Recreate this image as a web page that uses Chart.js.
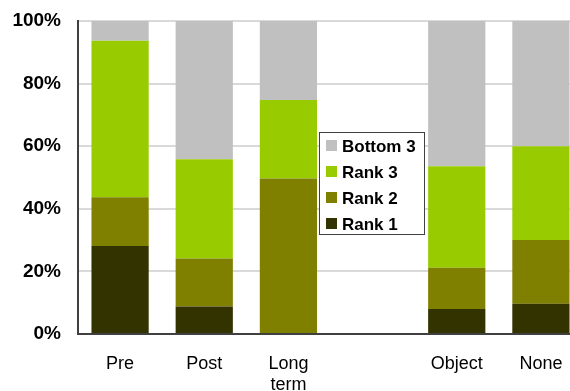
<!DOCTYPE html>
<html>
<head>
<meta charset="utf-8">
<script src="https://cdn.jsdelivr.net/npm/chart.js@4"></script>
<style>
  html, body { margin: 0; padding: 0; background: #fff; overflow: hidden; }
  #wrap { position: relative; width: 583px; height: 391px; }
</style>
</head>
<body>
<div id="wrap"><canvas id="c" width="583" height="391"></canvas></div>
<script>
// Share of responses in each rank group, per condition (percent of 100)
const categories = ['Pre', 'Post', ['Long', 'term'], '', 'Object', 'None'];
const rank1   = [28.1,  8.8,  0,    null, 8.0, 9.7];
const rank2   = [15.6, 15.3, 49.7,  null, 13.2, 20.3];
const rank3   = [50.0, 31.7, 25.1,  null, 32.4, 30.0];
const bottom3 = [ 6.3, 44.2, 25.2,  null, 46.4, 40.0];
const yTicks  = [0, 20, 40, 60, 80, 100];

const colours = {
  rank1: '#333300',
  rank2: '#808000',
  rank3: '#99CC00',
  bottom3: '#C0C0C0'
};

// Boxed legend drawn over the plot, listing the series top-down
const boxLegend = {
  id: 'boxLegend',
  afterDraw(chart) {
    const ctx = chart.ctx;
    const x = 319, y = 132, w = 105, h = 102;
    ctx.save();
    ctx.fillStyle = '#ffffff';
    ctx.fillRect(x, y, w, h);
    ctx.strokeStyle = '#404040';
    ctx.lineWidth = 1;
    ctx.strokeRect(x + 0.5, y + 0.5, w, h);
    const items = chart.data.datasets.slice().reverse();
    ctx.font = 'bold 17px "Liberation Sans", Arial, sans-serif';
    ctx.textBaseline = 'middle';
    items.forEach((ds, i) => {
      const cy = y + 14 + i * 26;
      ctx.fillStyle = ds.backgroundColor;
      ctx.fillRect(x + 7, cy - 6, 11, 11);
      ctx.fillStyle = '#000000';
      ctx.fillText(ds.label, x + 17 + 6, cy + 1);
    });
    ctx.restore();
  }
};

new Chart(document.getElementById('c'), {
  type: 'bar',
  data: {
    labels: categories,
    datasets: [
      { label: 'Rank 1',   data: rank1,   backgroundColor: colours.rank1 },
      { label: 'Rank 2',   data: rank2,   backgroundColor: colours.rank2 },
      { label: 'Rank 3',   data: rank3,   backgroundColor: colours.rank3 },
      { label: 'Bottom 3', data: bottom3, backgroundColor: colours.bottom3 }
    ]
  },
  options: {
    responsive: false,
    animation: false,
    layout: { padding: { top: 21, right: 0, left: 0, bottom: 0 } },
    datasets: { bar: { barPercentage: 0.68, categoryPercentage: 1.0, borderWidth: 0 } },
    plugins: {
      legend: { display: false },
      tooltip: { enabled: false }
    },
    scales: {
      x: {
        stacked: true,
        grid: { display: false, drawTicks: false },
        border: { display: true, color: '#404040', width: 2 },
        ticks: {
          color: '#000000',
          padding: 20,
          maxRotation: 0,
          autoSkip: false,
          font: { family: '"Liberation Sans", Arial, sans-serif', size: 18, lineHeight: 1.15 }
        },
        afterFit(scale) {
          scale.height = 57;
          scale.paddingLeft = 0;
          scale.paddingRight = 0;
        }
      },
      y: {
        stacked: true,
        min: 0,
        max: 100,
        afterBuildTicks(scale) { scale.ticks = yTicks.map(v => ({ value: v })); },
        grid: { color: '#d9d9d9', lineWidth: 2, drawTicks: false },
        border: { display: true, color: '#404040', width: 2 },
        ticks: {
          color: '#000000',
          padding: 17,
          callback: v => v + '%',
          font: { family: '"Liberation Sans", Arial, sans-serif', size: 19, weight: 'bold' }
        },
        afterFit(scale) {
          scale.width = 78;
          scale.paddingTop = 0;
          scale.paddingBottom = 0;
        }
      }
    }
  },
  plugins: [boxLegend]
});
</script>
</body>
</html>
